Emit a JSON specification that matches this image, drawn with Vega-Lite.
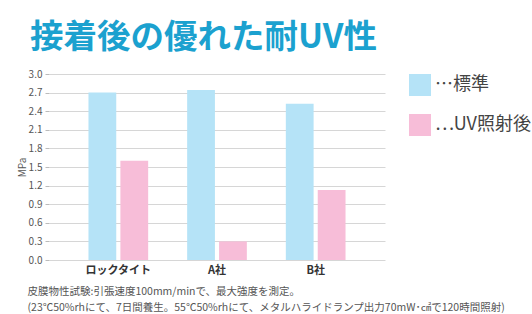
{
  "$schema": "https://vega.github.io/schema/vega-lite/v6.json",
  "width": 336,
  "height": 186,
  "autosize": {"type": "none"},
  "padding": {"left": 49, "top": 74, "right": 147, "bottom": 54},
  "background": "white",
  "title": {
    "text": "接着後の優れた耐UV性",
    "anchor": "start",
    "frame": "group",
    "font": "Noto Sans CJK JP",
    "fontSize": 33.5,
    "fontWeight": "bold",
    "color": "#1ba1cf",
    "dx": -19,
    "offset": 14
  },
  "data": {
    "values": [
      {"company": "ロックタイト", "series": "標準", "mpa": 2.70},
      {"company": "ロックタイト", "series": "UV照射後", "mpa": 1.60},
      {"company": "A社", "series": "標準", "mpa": 2.74},
      {"company": "A社", "series": "UV照射後", "mpa": 0.30},
      {"company": "B社", "series": "標準", "mpa": 2.52},
      {"company": "B社", "series": "UV照射後", "mpa": 1.13}
    ]
  },
  "mark": {"type": "bar"},
  "encoding": {
    "x": {
      "field": "company",
      "type": "nominal",
      "sort": ["ロックタイト", "A社", "B社"],
      "scale": {"paddingInner": 0.395, "paddingOuter": 0.4},
      "axis": {
        "title": ["皮膜物性試験:引張速度100mm/minで、最大強度を測定。", "(23℃50%rhにて、7日間養生。55℃50%rhにて、メタルハライドランプ出力70mW･㎠で120時間照射)"],
        "titleFont": "Noto Sans CJK JP",
        "titleFontSize": 10.5,
        "titleFontWeight": "normal",
        "titleColor": "#555555",
        "titleAnchor": "start",
        "titleAlign": "left",
        "titleX": -22,
        "titleY": 26,
        "titleLineHeight": 16,
        "labelAngle": 0,
        "labelFont": "Noto Sans CJK JP",
        "labelFontSize": 11,
        "labelFontWeight": "bold",
        "labelColor": "#333333",
        "labelPadding": 4,
        "domain": false,
        "ticks": false
      }
    },
    "xOffset": {
      "field": "series",
      "type": "nominal",
      "sort": ["標準", "UV照射後"],
      "scale": {"paddingInner": 0.13}
    },
    "y": {
      "field": "mpa",
      "type": "quantitative",
      "scale": {"domain": [0, 3]},
      "axis": {
        "title": "MPa",
        "titleFont": "Noto Sans CJK JP",
        "titleFontSize": 10,
        "titleFontWeight": "normal",
        "titleColor": "#555555",
        "titlePadding": 1,
        "values": [0, 0.3, 0.6, 0.9, 1.2, 1.5, 1.8, 2.1, 2.4, 2.7, 3.0],
        "format": ".1f",
        "labelFont": "Noto Sans CJK JP",
        "labelFontSize": 10,
        "labelColor": "#555555",
        "labelPadding": 3,
        "tickSize": 4,
        "tickColor": "#bbbbbb",
        "gridColor": "#d6d6d6",
        "domain": false
      }
    },
    "color": {
      "field": "series",
      "type": "nominal",
      "sort": ["標準", "UV照射後"],
      "scale": {"domain": ["標準", "UV照射後"], "range": ["#b5e3f7", "#f7bdd8"]},
      "legend": {
        "title": null,
        "orient": "right",
        "offset": 24,
        "symbolType": "square",
        "symbolSize": 484,
        "symbolStrokeWidth": 0,
        "labelFont": "Noto Sans CJK JP",
        "labelFontSize": 18,
        "labelColor": "#444444",
        "labelExpr": "'⋯' + datum.label",
        "labelLimit": 200,
        "rowPadding": 18,
        "padding": 0,
        "labelOffset": 4
      }
    }
  },
  "config": {
    "view": {"stroke": null}
  }
}
